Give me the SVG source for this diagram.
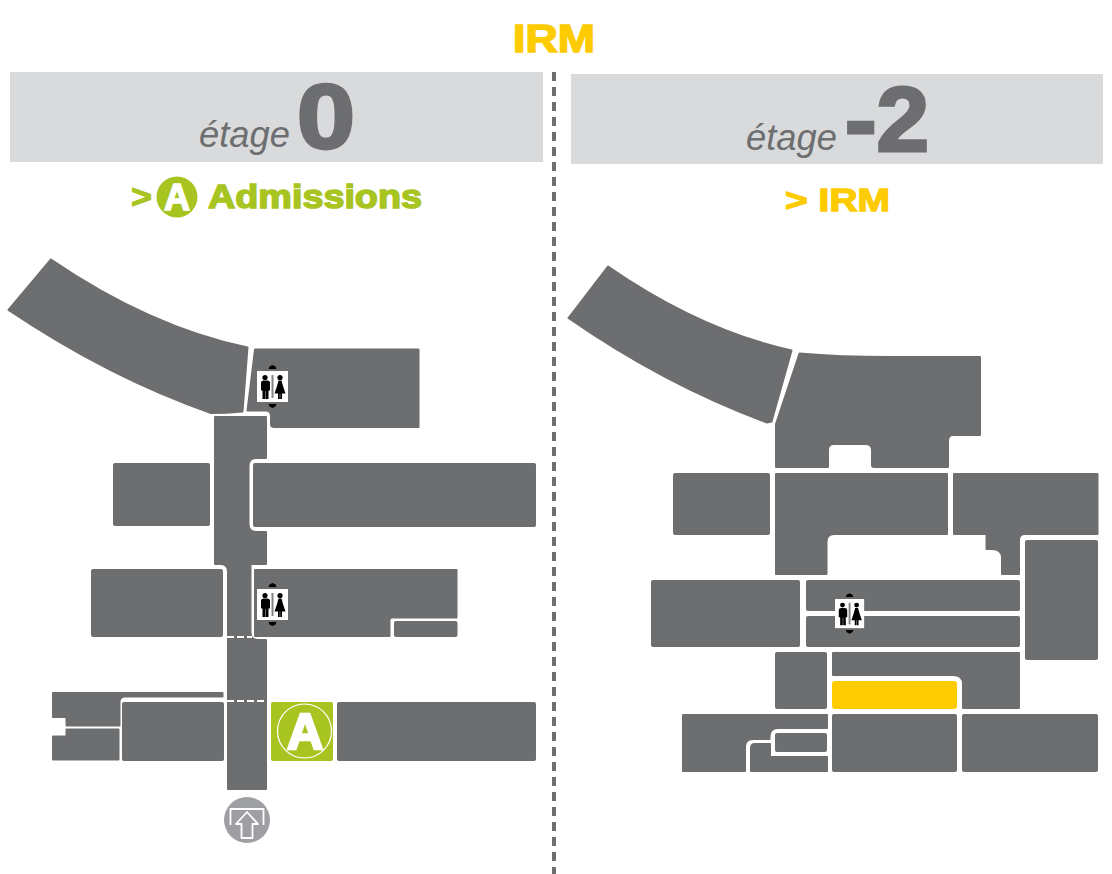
<svg xmlns="http://www.w3.org/2000/svg" xmlns:xlink="http://www.w3.org/1999/xlink" width="1112" height="874" viewBox="0 0 1112 874">
<style>
.b{fill:#6d6e70;stroke:#6d6e70;stroke-width:2;stroke-linejoin:round}
.r{fill:#6d6e70}
.t{font-family:"Liberation Sans",Arial,sans-serif;font-weight:bold}
.e{font-family:"Liberation Sans",Arial,sans-serif;font-style:italic;font-size:37px;fill:#6d6e70}
.n{fill:#6d6e70;stroke:#6d6e70;stroke-width:3;font-size:90px}
.y{fill:#fdcb00;stroke:#fdcb00}
.g{fill:#a8c421;stroke:#a8c421}
.w{fill:#fff;stroke:#fff}
</style>
<defs>
<g id="wc">
<rect x="0" y="0" width="31" height="31" fill="#fff"/>
<path d="M15.500-6l3 1.500 1 2.500h-8l1-2.500zM15.500 37l3-1.500 1-2.500h-8l1 2.500z" fill="#000"/>
<rect x="14.500" y="4" width="2" height="23" fill="#808285"/>
<circle cx="8" cy="6.500" r="2.600" fill="#000"/>
<path d="M5.500 9.500h5q2.500 0 2.500 2.500v7.500h-1.500v8.500h-2.800v-8h-.4v8h-2.800v-8.500h-1.500v-7.500q0-2.500 2.500-2.500z" fill="#000"/>
<circle cx="23" cy="6.500" r="2.600" fill="#000"/>
<path d="M21.500 9.500h3l1.500 5.500 2.500 7.500h-3.500v5.500h-1.800v-5.500h-.4v5.500h-1.800v-5.500h-3.500l2.500-7.500z" fill="#000"/>
</g>
</defs>
<rect width="1112" height="874" fill="#fff"/>

<text class="t y" x="513" y="52" font-size="39" stroke-width="1.500" textLength="82" lengthAdjust="spacingAndGlyphs">IRM</text>

<g id="header-left">
<rect x="10" y="72" width="533" height="90" fill="#d9dadb"/>
<text class="e" x="199" y="147" textLength="91" lengthAdjust="spacingAndGlyphs">étage</text>
<text class="t n" x="297" y="148" textLength="58" lengthAdjust="spacingAndGlyphs">0</text>
</g>
<g id="header-right">
<rect x="571" y="74" width="532" height="90" fill="#d9dadb"/>
<text class="e" x="746" y="150" textLength="91" lengthAdjust="spacingAndGlyphs">étage</text>
<text class="t n" x="845" y="151" textLength="84" lengthAdjust="spacingAndGlyphs">-2</text>
</g>

<path d="M554 72V874" stroke="#6d6e70" stroke-width="4" stroke-dasharray="9 6" fill="none"/>

<g id="title-left">
<text class="t g" x="131" y="208" font-size="33" stroke-width="1" textLength="21" lengthAdjust="spacingAndGlyphs">&gt;</text>
<circle cx="177" cy="197" r="20.500" fill="#a8c421"/>
<text class="t w" x="177" y="210" font-size="36" stroke-width="1.500" text-anchor="middle">A</text>
<text class="t g" x="208" y="208" font-size="33" stroke-width="1.500" textLength="214" lengthAdjust="spacingAndGlyphs">Admissions</text>
</g>
<text id="title-right" class="t y" x="785" y="211" font-size="32" stroke-width="1.300" textLength="105" lengthAdjust="spacingAndGlyphs">&gt; IRM</text>

<g id="plan-left">
<path class="b" d="M51 259.500Q150 327 247.500 347.500L242.500 411.500Q226 413 211 413Q110 378 8.500 310Z"/>
<path class="b" d="M255 349.500H418.500V427H274Q271 427 271 424V416Q271 410.500 266 410.500H247.500Z"/>
<path class="b" d="M215 417H266V458H256Q248.500 458 248.500 466V524Q248.500 532 256 532H266V564H250.500V632Q250.500 640 258 640H266V789H228V572Q228 564 221 564H215Z"/>
<rect class="r" x="113" y="463" width="97" height="63" rx="2"/>
<rect class="r" x="253" y="463" width="283" height="64" rx="2"/>
<rect class="r" x="91" y="569" width="132" height="68" rx="2"/>
<path class="b" d="M255 570H456.500V617.500H392Q389.500 617.500 389.500 620V636H255Z"/>
<rect class="r" x="394" y="621" width="63.500" height="16" rx="2"/>
<path class="b" d="M53 693H222.500V696.500H125Q119.500 696.500 119.500 702V725.500H66.500V717H53Z"/>
<path class="b" d="M53 736.500H66.500V729.500H118.500V759.500H53Z"/>
<rect class="r" x="122" y="702" width="102" height="59" rx="2"/>
<rect class="r" x="337" y="702" width="199" height="59" rx="2"/>
<path d="M227 637H252M227 701H267" stroke="#fff" stroke-width="2" stroke-dasharray="7 3" fill="none"/>
<use xlink:href="#wc" href="#wc" x="257" y="371"/>
<use xlink:href="#wc" href="#wc" x="257" y="589"/>
<g id="admissions">
<rect x="271" y="702" width="62" height="59" rx="2" fill="#a8c421"/>
<circle cx="304.500" cy="731" r="27" fill="none" stroke="#fff" stroke-width="1.200"/>
<text class="t w" x="305" y="749" font-size="50" stroke-width="2.500" text-anchor="middle">A</text>
</g>
<g id="entrance" fill="none" stroke="#fff" stroke-width="1.800">
<circle cx="247" cy="820" r="23" fill="#9d9fa2" stroke="none"/>
<path d="M230.500 825V809H263.500V825"/>
<path d="M247 812L258 824H252.500V838H241.500V824H236Z" stroke-linejoin="round"/>
</g>
</g>

<g id="plan-right">
<path class="b" d="M608 266.500Q700 330 791.500 350.500L771.500 421.500L767 422.500Q665 385 568.500 318Z"/>
<path class="b" d="M799.500 353.500Q840 357 890 357H980V435H953Q948 435 948 441V467H874Q872 467 872 465V450Q872 444 865 444H834Q828 444 828 450V467H776V424Z"/>
<rect class="r" x="673" y="473" width="97" height="62" rx="2"/>
<path class="b" d="M776 474H947V534H834Q826.500 534 826.500 542V574H776Z"/>
<path class="b" d="M954 474H1097.500V534H1025Q1019 534 1019 540V574H1002V558Q1002 549 992 549H986.500V534H954Z"/>
<rect class="r" x="1025" y="540" width="73" height="120" rx="2"/>
<rect class="r" x="651" y="580" width="149" height="67" rx="2"/>
<rect class="r" x="806" y="580" width="214" height="31" rx="2"/>
<rect class="r" x="806" y="616" width="214" height="31" rx="2"/>
<rect class="r" x="775" y="652" width="52" height="57" rx="2"/>
<path class="b" d="M833 653H1019V708H963V684Q963 675 953 675H833Z"/>
<rect id="irm" x="832" y="681" width="125" height="28" rx="3" fill="#fdcb00"/>
<path class="b" d="M683 715H827V728H778Q769.500 728 769.500 736.500V739H753Q745 739 745 747V771H683Z"/>
<rect class="r" x="775" y="733" width="52" height="19" rx="2"/>
<path class="b" d="M751 771V748Q751 744 755 744H770V757H827V771Z"/>
<rect class="r" x="832" y="714" width="125" height="58" rx="2"/>
<rect class="r" x="962" y="714" width="136" height="58" rx="2"/>
<use xlink:href="#wc" href="#wc" transform="translate(835 599) scale(.94)"/>
</g>
</svg>
